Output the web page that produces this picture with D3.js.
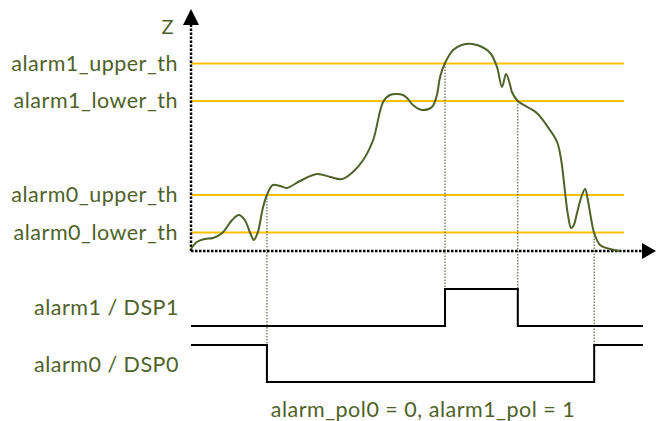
<!DOCTYPE html>
<html><head><meta charset="utf-8">
<script src="https://cdn.jsdelivr.net/npm/d3@7"></script>
<style>body{margin:0;background:#fff}svg{display:block}text{font-family:Lato,"Open Sans",sans-serif;fill:#4f6228}</style>
</head><body><div id="chart"></div>
<script>
// time samples and Z values of the measured curve
const curveT = [0,1.3,3.1,4.9,6.9,9.1,10.6,11.9,13.1,13.9,14.8,15.9,16.8,18.1,19.7,21.2,24.1,27.9,30.8,33.4,35.8,38.1,40.3,42.5,44,45.6,46.9,47.8,49.1,51.1,53.3,54.4,55.1,56.2,58,59.9,62.2,64.4,66.2,67.7,68.8,69.7,70.6,71,72.3,76.5,79.4,81,81.9,82.7,83.4,84.1,84.7,85.4,86.5,87.2,87.8,88.3,89.2,90.5,92.7,94.9];
const curveZ = [0.8,3.6,4.8,5.2,7.2,12.4,14.4,12.4,7.2,4.4,7.6,17.2,22.4,26.4,26,25.2,28,30.8,29.6,28.8,31.6,36.4,44.4,59.6,62.4,62.8,62.4,61.2,58.4,56.4,57.6,62.4,69.6,75.2,80.4,82.4,82.8,81.6,79.2,73.6,65.6,70.8,66.4,63.6,60,55.2,48.4,43.6,36.4,24.4,14.4,9.2,10.4,15.2,22.4,24.8,20.4,15.2,7.2,2.4,0.8,0];
const thresholdNames = ["alarm1_upper_th","alarm1_lower_th","alarm0_upper_th","alarm0_lower_th"];
const thresholdValues = [75,60,22.4,7.4];
// crossing events (time) that drive the digital outputs
const alarm1Edges = [56.2, 72.3];
const alarm0Edges = [16.8, 89.2];
const signalNames = ["alarm1 / DSP1","alarm0 / DSP0"];
const footnote = "alarm_pol0 = 0, alarm1_pol = 1";

const W = 656, H = 421;
const svg = d3.select("#chart").append("svg").attr("width", W).attr("height", H);
const x = d3.scaleLinear().domain([0,100]).range([191,643]);
const y = d3.scaleLinear().domain([0,100]).range([251,1]);
const green = "#4f6228";
const FS = 21.5, LS = 0.5;

// threshold lines
thresholdValues.forEach((v,i)=>{
  svg.append("line").attr("x1",x(0)).attr("x2",x(95.8)).attr("y1",y(v)).attr("y2",y(v))
    .attr("stroke","#ffc000").attr("stroke-width",2);
  svg.append("text").attr("x",178).attr("y",y(v)).attr("dy","0.33em").attr("text-anchor","end")
    .attr("font-size",FS).attr("letter-spacing",LS).text(thresholdNames[i]);
});

// signal levels
const sigY1 = {lo:326, hi:289};
const sigY0 = {lo:382, hi:345};

// dotted event lines
const ev = [
  {t:alarm0Edges[0], z:thresholdValues[2], y2:sigY0.lo},
  {t:alarm1Edges[0], z:thresholdValues[0], y2:sigY1.lo},
  {t:alarm1Edges[1], z:thresholdValues[1], y2:sigY1.lo},
  {t:alarm0Edges[1], z:thresholdValues[3], y2:sigY0.hi}
];
ev.forEach(e=>{
  svg.append("line").attr("x1",x(e.t)).attr("x2",x(e.t)).attr("y1",y(e.z)).attr("y2",e.y2)
    .attr("stroke","#3b4a1e").attr("stroke-width",1).attr("stroke-dasharray","1.5,1.5");
});

// axes
svg.append("line").attr("x1",x(0)).attr("x2",x(0)).attr("y1",y(0)).attr("y2",24)
  .attr("stroke","#000").attr("stroke-width",2.5).attr("stroke-dasharray","2.5,1.5");
svg.append("line").attr("x1",x(0)).attr("x2",646).attr("y1",y(0)).attr("y2",y(0))
  .attr("stroke","#000").attr("stroke-width",2.5).attr("stroke-dasharray","2.5,1.5");
svg.append("path").attr("d",`M${x(0)},9 L${x(0)-8},25 L${x(0)+8},25 Z`).attr("fill","#000");
svg.append("path").attr("d",`M656,${y(0)} L642,${y(0)-8} L642,${y(0)+8} Z`).attr("fill","#000");
svg.append("text").attr("x",167.5).attr("y",34).attr("text-anchor","middle").attr("font-size",20).text("Z");

// curve
const pts = curveT.map((t,i)=>[x(t), y(curveZ[i])]);
svg.append("path").attr("d", d3.line().curve(d3.curveCatmullRom.alpha(0.5))(pts))
  .attr("fill","none").attr("stroke",green).attr("stroke-width",2);

// digital signals
function sig(edges, startHigh, lv){
  let level = startHigh, p = [[x(0), startHigh?lv.hi:lv.lo]];
  edges.forEach(t=>{ p.push([x(t), level?lv.hi:lv.lo]); level=!level; p.push([x(t), level?lv.hi:lv.lo]); });
  p.push([x(100), level?lv.hi:lv.lo]);
  svg.append("path").attr("d", d3.line()(p)).attr("fill","none").attr("stroke","#000").attr("stroke-width",2);
}
sig(alarm1Edges, false, sigY1);
sig(alarm0Edges, true, sigY0);

svg.append("text").attr("x",179).attr("y",308).attr("dy","0.33em").attr("text-anchor","end").attr("font-size",FS).attr("letter-spacing",LS).text(signalNames[0]);
svg.append("text").attr("x",179).attr("y",365).attr("dy","0.33em").attr("text-anchor","end").attr("font-size",FS).attr("letter-spacing",LS).text(signalNames[1]);
svg.append("text").attr("x",423).attr("y",409.5).attr("dy","0.33em").attr("text-anchor","middle").attr("font-size",FS).attr("letter-spacing",LS).text(footnote);
</script></body></html>
